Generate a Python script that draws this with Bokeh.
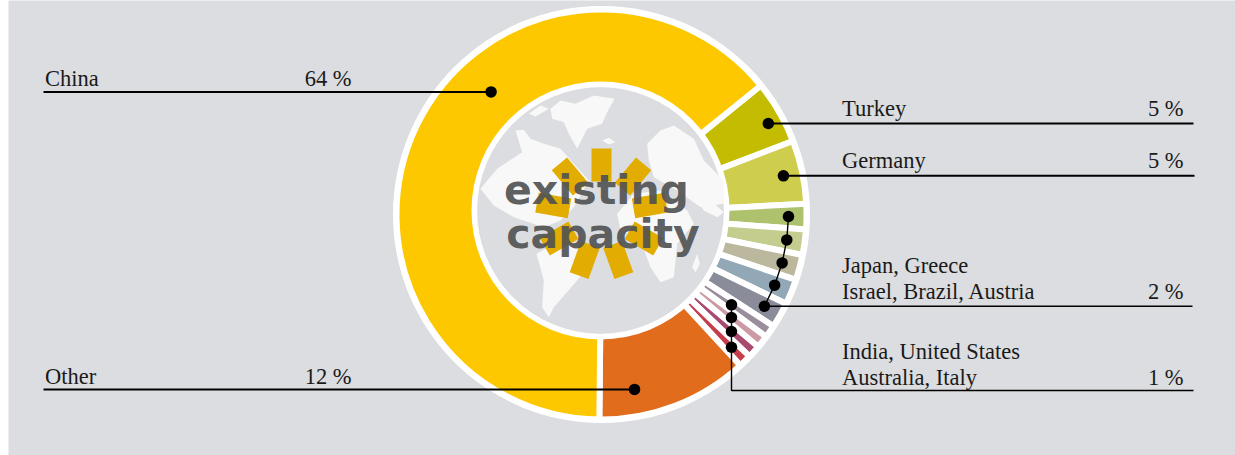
from math import sin, cos, radians
from bokeh.plotting import figure
from bokeh.core.properties import value
from bokeh.embed import file_html
from bokeh.resources import INLINE

# ---- data -------------------------------------------------------------
slice_names = ["Turkey", "Germany", "Japan", "Greece", "Israel", "Brazil", "Austria",
               "India", "United States", "Australia", "Italy", "Other", "China"]
slice_shares = [5, 5, 2, 2, 2, 2, 2, 1, 1, 1, 1, 12, 64]
slice_colors = ["#c4bc00", "#cfcd4e", "#aec26d", "#c4cc8e", "#bcb89d", "#92a8b6", "#8a8c9a",
                "#9a8d9c", "#cb9aa5", "#a94a70", "#c53f4b", "#e06c1c", "#fdc800"]
label_names = ["China", "Other", "Turkey", "Germany", "Japan, Greece", "Israel, Brazil, Austria",
               "India, United States", "Australia, Italy"]
label_values = ["64 %", "12 %", "5 %", "5 %", "2 %", "1 %"]
center_words = ["existing", "capacity"]

H = 455
BG = "#dcdde0"
CX, CY = 601, 214
R_OUT = 204
START = 51  # clockwise from 12 o'clock
TXT_DY = -8


def Y(y):
    return H - y


p = figure(width=1227, height=H, x_range=(8, 1235), y_range=(0, H), output_backend="svg",
           toolbar_location=None, x_axis_type=None, y_axis_type=None, min_border=0,
           background_fill_color=BG, border_fill_color=BG, outline_line_color=None)
p.margin = (0, 0, 0, 8)
p.grid.visible = False

# ---- donut --------------------------------------------------------------
p.circle([CX], [Y(CY)], radius=208.5, fill_color="white", line_color=None)
starts, ends, a = [], [], START
for s in slice_shares:
    starts.append(a)
    a += s * 3.6
    ends.append(a)
p.annular_wedge(x=[CX] * len(starts), y=[Y(CY)] * len(starts), inner_radius=100, outer_radius=R_OUT + 1,
                start_angle=[radians(90 - e) for e in ends], end_angle=[radians(90 - s) for s in starts],
                fill_color=slice_colors, line_color="white", line_width=6)

# inner disc
IX, IY = 600, 210
p.circle([IX], [Y(IY)], radius=129, fill_color="white", line_color=None)
p.circle([IX], [Y(IY)], radius=123, fill_color=BG, line_color="#d0d1d4", line_width=0.5)


# ---- decorative world map, traced in crop coordinates ----------------------
def tr(pts):
    return [460 + x / 3 for x, _ in pts], [Y(80 + y / 3) for _, y in pts]


land = [
    [(270, 85), (300, 60), (345, 70), (400, 45), (462, 55), (440, 95), (425, 130), (380, 145), (350, 205),
     (325, 160), (310, 125), (275, 115)],
    [(425, 180), (445, 172), (465, 185), (445, 192)],
    [(205, 100), (240, 75), (265, 85), (225, 108)],
    [(165, 150), (190, 148), (210, 175), (250, 190), (300, 205), (340, 250), (385, 300), (340, 380), (300, 420),
     (250, 440), (160, 410), (100, 375), (60, 325), (110, 265), (185, 215)],
    [(245, 680), (250, 600), (228, 520), (300, 480), (380, 510), (412, 520), (350, 600), (280, 680), (265, 710)],
    [(470, 400), (520, 340), (600, 330), (680, 390), (700, 430), (650, 490), (640, 590), (600, 605), (570, 560),
     (540, 480), (480, 450)],
    [(560, 190), (600, 150), (640, 135), (700, 175), (730, 240), (790, 300), (790, 370), (720, 380), (650, 330),
     (580, 290), (565, 240)],
    [(695, 560), (710, 520), (718, 550), (705, 575)],
    [(715, 365), (750, 360), (790, 395), (770, 410), (730, 390)],
]
xs, ys = zip(*[tr(s) for s in land])
p.patches(list(xs), list(ys), fill_color="#f8f8f8", line_color=None)

# ---- sun-burst ------------------------------------------------------------
spokes = list(range(0, 360, 40))
BX, BY, BR = 601, 213.5, 49
p.rect(x=[BX + BR * sin(radians(d)) for d in spokes], y=[Y(BY) + BR * cos(radians(d)) for d in spokes],
       width=20, height=33, angle=[radians(-d) for d in spokes], fill_color="#e2ac00", line_color=None)

p.text([596, 602.5], [Y(197.5 + TXT_DY), Y(241 + TXT_DY)], text=center_words, text_font=value("DejaVu Sans"),
       text_font_style="bold", text_font_size="41px", text_color="#505153", text_alpha=0.92,
       text_align="center", text_baseline="middle")

# ---- leader lines and dots ---------------------------------------------------
mid = [(s + e) / 2 for s, e in zip(starts, ends)]


def polar(angle, r):
    return CX + r * sin(radians(angle)), CY - r * cos(radians(angle))


D_R = 187
tk = polar(61.4, 190)
ge = polar(mid[1], 186)
two = [polar(m, D_R) for m in mid[2:7]]
ONE_X = 731
one = [(ONE_X, CY - (ONE_X - CX) / sin(radians(m)) * cos(radians(m))) for m in mid[7:11]]
ot = polar(169.3, 178)
ch = polar(318, 165)

thick = [([43, ch[0]], [ch[1], ch[1]]), ([43, ot[0]], [ot[1], ot[1]]),
         ([tk[0], 1193], [tk[1], tk[1]]), ([ge[0], 1194], [ge[1], ge[1]])]
for lx, ly in thick:
    p.line(lx, [Y(v) for v in ly], line_color="black", line_width=2)

path2 = two + [(1192, two[-1][1])]
p.line([q[0] for q in path2], [Y(q[1]) for q in path2], line_color="black", line_width=1.4)
path1 = one + [(ONE_X, 390), (1193, 390)]
p.line([q[0] for q in path1], [Y(q[1]) for q in path1], line_color="black", line_width=1.4)

dots = [tk, ge, ot, ch] + two + one
p.scatter([d[0] for d in dots], [Y(d[1]) for d in dots], size=11.5, fill_color="black", line_color=None)

# ---- labels ---------------------------------------------------------------
FONT = value("Liberation Serif")
name_x = [44.5, 44.5, 841.5, 841.5, 841.5, 841.5, 841.5, 841.5]
name_y = [86, 384, 116, 168, 273, 299, 359, 385]
p.text(name_x, [Y(v + TXT_DY) for v in name_y], text=label_names, text_font=FONT, text_font_size="22.5px",
       text_color="#1a1a1a", text_align="left", text_baseline="alphabetic")
val_x = [351, 351, 1183, 1183, 1183, 1183]
val_y = [86, 384, 116, 168, 299, 385]
p.text(val_x, [Y(v + TXT_DY) for v in val_y], text=label_values, text_font=FONT, text_font_size="22.5px",
       text_color="#1a1a1a", text_align="right", text_baseline="alphabetic")

open("out.html", "w").write(file_html(p, INLINE))
